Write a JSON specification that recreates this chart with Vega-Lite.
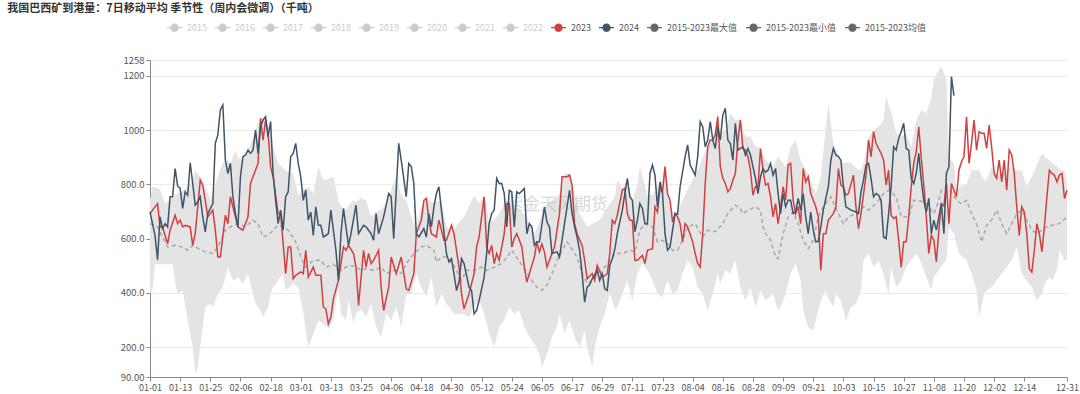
{
"$schema": "https://vega.github.io/schema/vega-lite/v6.json",
"width": 917, "height": 317,
"autosize": "none",
"padding": {"left": 150, "top": 60, "right": 13, "bottom": 17},
"background": "white",
"config": {"view": {"stroke": null}, "font": "Noto Sans CJK SC", "axis": {"labelOverlap": false}, "axisX": {"labelOverlap": false, "labelSeparation": 0}},
"title": {"text": "我国巴西矿到港量：7日移动平均 季节性（周内会微调）（千吨）", "anchor": "start", "dx": -113, "offset": 5, "fontSize": 11, "fontWeight": "bold", "color": "#333"},
"datasets": {
"wm": [{"d": 162, "v": 724, "t": "紫金天风期货"}],
"band": [
{"d":0,"hi":741,"lo":397},{"d":1,"hi":790,"lo":410},{"d":2,"hi":790,"lo":505},{"d":4,"hi":780,"lo":505},{"d":6,"hi":729,"lo":505},{"d":9,"hi":750,"lo":505},{"d":10,"hi":760,"lo":440},{"d":11,"hi":765,"lo":397},{"d":13,"hi":775,"lo":409},{"d":15,"hi":790,"lo":298},{"d":17,"hi":820,"lo":200},{"d":18,"hi":850,"lo":101},{"d":19,"hi":840,"lo":126},{"d":21,"hi":815,"lo":274},{"d":22,"hi":790,"lo":348},{"d":24,"hi":745,"lo":360},{"d":25,"hi":760,"lo":348},{"d":27,"hi":830,"lo":397},{"d":29,"hi":880,"lo":421},{"d":31,"hi":890,"lo":495},{"d":32,"hi":877,"lo":470},{"d":33,"hi":900,"lo":446},{"d":34,"hi":926,"lo":450},{"d":35,"hi":900,"lo":458},{"d":37,"hi":890,"lo":434},{"d":39,"hi":930,"lo":470},{"d":41,"hi":970,"lo":397},{"d":42,"hi":1000,"lo":360},{"d":44,"hi":1045,"lo":335},{"d":45,"hi":1040,"lo":311},{"d":47,"hi":1010,"lo":348},{"d":48,"hi":970,"lo":397},{"d":49,"hi":940,"lo":421},{"d":51,"hi":877,"lo":446},{"d":53,"hi":860,"lo":471},{"d":54,"hi":850,"lo":409},{"d":57,"hi":840,"lo":434},{"d":59,"hi":760,"lo":421},{"d":61,"hi":780,"lo":330},{"d":63,"hi":790,"lo":200},{"d":65,"hi":766,"lo":249},{"d":67,"hi":865,"lo":298},{"d":69,"hi":815,"lo":286},{"d":71,"hi":820,"lo":270},{"d":73,"hi":828,"lo":300},{"d":75,"hi":741,"lo":421},{"d":76,"hi":720,"lo":323},{"d":78,"hi":705,"lo":298},{"d":79,"hi":720,"lo":372},{"d":81,"hi":741,"lo":286},{"d":82,"hi":735,"lo":323},{"d":84,"hi":750,"lo":340},{"d":86,"hi":740,"lo":311},{"d":88,"hi":680,"lo":360},{"d":90,"hi":700,"lo":274},{"d":92,"hi":705,"lo":237},{"d":94,"hi":729,"lo":323},{"d":96,"hi":780,"lo":298},{"d":98,"hi":828,"lo":348},{"d":100,"hi":760,"lo":274},{"d":102,"hi":741,"lo":397},{"d":104,"hi":680,"lo":397},{"d":106,"hi":640,"lo":471},{"d":108,"hi":717,"lo":421},{"d":110,"hi":750,"lo":385},{"d":112,"hi":735,"lo":458},{"d":114,"hi":735,"lo":348},{"d":116,"hi":741,"lo":397},{"d":118,"hi":643,"lo":360},{"d":121,"hi":631,"lo":323},{"d":123,"hi":660,"lo":323},{"d":125,"hi":680,"lo":320},{"d":127,"hi":720,"lo":311},{"d":129,"hi":760,"lo":348},{"d":131,"hi":730,"lo":372},{"d":133,"hi":760,"lo":323},{"d":135,"hi":660,"lo":249},{"d":137,"hi":670,"lo":200},{"d":139,"hi":690,"lo":274},{"d":141,"hi":729,"lo":298},{"d":143,"hi":730,"lo":348},{"d":145,"hi":715,"lo":323},{"d":147,"hi":705,"lo":335},{"d":149,"hi":690,"lo":274},{"d":151,"hi":660,"lo":237},{"d":153,"hi":618,"lo":212},{"d":155,"hi":660,"lo":175},{"d":156,"hi":690,"lo":126},{"d":158,"hi":717,"lo":175},{"d":160,"hi":741,"lo":237},{"d":162,"hi":755,"lo":274},{"d":163,"hi":766,"lo":323},{"d":165,"hi":840,"lo":249},{"d":167,"hi":840,"lo":298},{"d":169,"hi":766,"lo":237},{"d":171,"hi":692,"lo":200},{"d":173,"hi":660,"lo":261},{"d":174,"hi":643,"lo":200},{"d":176,"hi":655,"lo":126},{"d":177,"hi":660,"lo":200},{"d":179,"hi":668,"lo":274},{"d":181,"hi":700,"lo":323},{"d":183,"hi":729,"lo":397},{"d":185,"hi":754,"lo":340},{"d":186,"hi":815,"lo":348},{"d":188,"hi":785,"lo":397},{"d":190,"hi":815,"lo":446},{"d":192,"hi":741,"lo":372},{"d":194,"hi":800,"lo":471},{"d":195,"hi":865,"lo":490},{"d":196,"hi":830,"lo":508},{"d":198,"hi":760,"lo":483},{"d":200,"hi":760,"lo":446},{"d":202,"hi":791,"lo":397},{"d":204,"hi":815,"lo":385},{"d":205,"hi":870,"lo":420},{"d":206,"hi":770,"lo":446},{"d":208,"hi":700,"lo":397},{"d":210,"hi":700,"lo":409},{"d":212,"hi":740,"lo":471},{"d":214,"hi":780,"lo":520},{"d":216,"hi":815,"lo":495},{"d":218,"hi":852,"lo":421},{"d":220,"hi":900,"lo":397},{"d":222,"hi":945,"lo":335},{"d":224,"hi":970,"lo":397},{"d":226,"hi":1060,"lo":471},{"d":227,"hi":990,"lo":434},{"d":229,"hi":1000,"lo":483},{"d":231,"hi":1062,"lo":471},{"d":233,"hi":1037,"lo":520},{"d":235,"hi":1040,"lo":421},{"d":237,"hi":975,"lo":372},{"d":239,"hi":975,"lo":421},{"d":241,"hi":938,"lo":348},{"d":243,"hi":935,"lo":409},{"d":245,"hi":890,"lo":372},{"d":248,"hi":865,"lo":397},{"d":250,"hi":902,"lo":335},{"d":251,"hi":890,"lo":348},{"d":253,"hi":865,"lo":397},{"d":255,"hi":938,"lo":471},{"d":257,"hi":963,"lo":508},{"d":259,"hi":889,"lo":446},{"d":260,"hi":870,"lo":335},{"d":262,"hi":840,"lo":274},{"d":264,"hi":790,"lo":261},{"d":265,"hi":766,"lo":298},{"d":267,"hi":828,"lo":372},{"d":269,"hi":1012,"lo":409},{"d":270,"hi":1098,"lo":380},{"d":272,"hi":950,"lo":348},{"d":273,"hi":926,"lo":397},{"d":275,"hi":877,"lo":372},{"d":277,"hi":880,"lo":298},{"d":279,"hi":880,"lo":348},{"d":281,"hi":860,"lo":360},{"d":283,"hi":850,"lo":409},{"d":284,"hi":877,"lo":520},{"d":286,"hi":975,"lo":545},{"d":288,"hi":1000,"lo":495},{"d":290,"hi":1012,"lo":520},{"d":292,"hi":1037,"lo":471},{"d":293,"hi":1123,"lo":430},{"d":294,"hi":1090,"lo":397},{"d":295,"hi":1070,"lo":495},{"d":297,"hi":988,"lo":421},{"d":299,"hi":975,"lo":446},{"d":301,"hi":988,"lo":495},{"d":303,"hi":938,"lo":520},{"d":305,"hi":1037,"lo":545},{"d":307,"hi":1074,"lo":510},{"d":309,"hi":1062,"lo":458},{"d":311,"hi":1120,"lo":409},{"d":312,"hi":1185,"lo":458},{"d":314,"hi":1222,"lo":483},{"d":315,"hi":1234,"lo":500},{"d":317,"hi":1185,"lo":520},{"d":318,"hi":900,"lo":643},{"d":320,"hi":877,"lo":618},{"d":321,"hi":780,"lo":580},{"d":322,"hi":790,"lo":545},{"d":325,"hi":800,"lo":520},{"d":327,"hi":852,"lo":471},{"d":329,"hi":852,"lo":409},{"d":330,"hi":852,"lo":311},{"d":332,"hi":815,"lo":397},{"d":333,"hi":815,"lo":409},{"d":335,"hi":865,"lo":421},{"d":337,"hi":840,"lo":446},{"d":339,"hi":840,"lo":471},{"d":341,"hi":852,"lo":495},{"d":343,"hi":865,"lo":520},{"d":345,"hi":852,"lo":569},{"d":347,"hi":850,"lo":471},{"d":349,"hi":791,"lo":446},{"d":351,"hi":828,"lo":421},{"d":353,"hi":870,"lo":372},{"d":355,"hi":914,"lo":397},{"d":356,"hi":902,"lo":430},{"d":358,"hi":889,"lo":458},{"d":359,"hi":880,"lo":446},{"d":361,"hi":865,"lo":483},{"d":362,"hi":855,"lo":557},{"d":364,"hi":852,"lo":520},{"d":365,"hi":803,"lo":520}
],
"mean": [
{"d":0,"v":655},{"d":3,"v":643},{"d":7,"v":569},{"d":10,"v":575},{"d":13,"v":569},{"d":15,"v":557},{"d":17,"v":575},{"d":19,"v":565},{"d":22,"v":551},{"d":25,"v":545},{"d":27,"v":569},{"d":30,"v":631},{"d":33,"v":649},{"d":35,"v":655},{"d":38,"v":643},{"d":41,"v":668},{"d":43,"v":655},{"d":45,"v":606},{"d":47,"v":612},{"d":49,"v":631},{"d":51,"v":649},{"d":53,"v":643},{"d":55,"v":631},{"d":58,"v":588},{"d":60,"v":532},{"d":62,"v":495},{"d":65,"v":520},{"d":68,"v":520},{"d":70,"v":495},{"d":73,"v":505},{"d":76,"v":483},{"d":78,"v":495},{"d":81,"v":500},{"d":84,"v":483},{"d":86,"v":490},{"d":89,"v":483},{"d":92,"v":495},{"d":94,"v":471},{"d":97,"v":483},{"d":100,"v":471},{"d":102,"v":508},{"d":105,"v":545},{"d":108,"v":569},{"d":110,"v":575},{"d":113,"v":557},{"d":114,"v":514},{"d":116,"v":532},{"d":118,"v":532},{"d":121,"v":500},{"d":124,"v":446},{"d":126,"v":483},{"d":129,"v":483},{"d":132,"v":495},{"d":134,"v":483},{"d":137,"v":495},{"d":140,"v":508},{"d":142,"v":530},{"d":144,"v":557},{"d":146,"v":530},{"d":149,"v":489},{"d":152,"v":446},{"d":154,"v":421},{"d":156,"v":409},{"d":158,"v":430},{"d":160,"v":471},{"d":162,"v":520},{"d":164,"v":557},{"d":166,"v":588},{"d":168,"v":560},{"d":170,"v":532},{"d":172,"v":471},{"d":174,"v":434},{"d":176,"v":446},{"d":178,"v":471},{"d":181,"v":495},{"d":183,"v":520},{"d":185,"v":545},{"d":188,"v":545},{"d":191,"v":557},{"d":193,"v":550},{"d":195,"v":631},{"d":197,"v":655},{"d":200,"v":643},{"d":202,"v":588},{"d":204,"v":594},{"d":206,"v":582},{"d":208,"v":557},{"d":210,"v":557},{"d":212,"v":594},{"d":214,"v":643},{"d":217,"v":655},{"d":220,"v":606},{"d":222,"v":631},{"d":225,"v":625},{"d":228,"v":655},{"d":230,"v":692},{"d":233,"v":723},{"d":235,"v":711},{"d":236,"v":692},{"d":238,"v":705},{"d":241,"v":717},{"d":243,"v":705},{"d":244,"v":643},{"d":245,"v":618},{"d":247,"v":594},{"d":249,"v":532},{"d":250,"v":526},{"d":252,"v":618},{"d":254,"v":680},{"d":256,"v":698},{"d":258,"v":655},{"d":260,"v":594},{"d":262,"v":563},{"d":264,"v":594},{"d":266,"v":680},{"d":268,"v":717},{"d":271,"v":754},{"d":274,"v":692},{"d":276,"v":655},{"d":278,"v":680},{"d":281,"v":692},{"d":284,"v":717},{"d":286,"v":705},{"d":289,"v":729},{"d":292,"v":766},{"d":294,"v":778},{"d":297,"v":754},{"d":299,"v":680},{"d":302,"v":680},{"d":304,"v":741},{"d":306,"v":741},{"d":309,"v":729},{"d":312,"v":692},{"d":314,"v":741},{"d":315,"v":778},{"d":317,"v":791},{"d":319,"v":772},{"d":321,"v":741},{"d":323,"v":729},{"d":325,"v":741},{"d":327,"v":692},{"d":329,"v":655},{"d":331,"v":588},{"d":333,"v":649},{"d":335,"v":668},{"d":337,"v":705},{"d":339,"v":655},{"d":341,"v":618},{"d":343,"v":655},{"d":345,"v":692},{"d":347,"v":705},{"d":349,"v":668},{"d":351,"v":631},{"d":353,"v":618},{"d":355,"v":631},{"d":357,"v":643},{"d":359,"v":649},{"d":362,"v":655},{"d":365,"v":680}
],
"y2023": [
{"d":0,"v":692},{"d":1,"v":705},{"d":3,"v":729},{"d":4,"v":643},{"d":5,"v":643},{"d":7,"v":581},{"d":8,"v":631},{"d":10,"v":686},{"d":11,"v":655},{"d":12,"v":668},{"d":13,"v":643},{"d":14,"v":649},{"d":16,"v":643},{"d":17,"v":575},{"d":18,"v":618},{"d":20,"v":815},{"d":21,"v":797},{"d":22,"v":741},{"d":23,"v":680},{"d":25,"v":705},{"d":26,"v":631},{"d":27,"v":532},{"d":28,"v":532},{"d":30,"v":686},{"d":31,"v":655},{"d":32,"v":754},{"d":34,"v":680},{"d":35,"v":643},{"d":37,"v":631},{"d":39,"v":680},{"d":40,"v":803},{"d":41,"v":828},{"d":43,"v":877},{"d":44,"v":1043},{"d":45,"v":963},{"d":46,"v":1037},{"d":47,"v":988},{"d":48,"v":865},{"d":49,"v":828},{"d":51,"v":692},{"d":52,"v":692},{"d":53,"v":581},{"d":54,"v":471},{"d":55,"v":569},{"d":56,"v":569},{"d":57,"v":452},{"d":58,"v":465},{"d":59,"v":471},{"d":60,"v":477},{"d":61,"v":471},{"d":62,"v":557},{"d":63,"v":458},{"d":65,"v":495},{"d":66,"v":465},{"d":68,"v":465},{"d":69,"v":348},{"d":70,"v":341},{"d":71,"v":286},{"d":72,"v":311},{"d":73,"v":378},{"d":75,"v":446},{"d":77,"v":569},{"d":78,"v":557},{"d":79,"v":575},{"d":81,"v":545},{"d":82,"v":495},{"d":83,"v":354},{"d":85,"v":557},{"d":86,"v":495},{"d":87,"v":545},{"d":88,"v":508},{"d":89,"v":520},{"d":91,"v":557},{"d":92,"v":421},{"d":93,"v":335},{"d":95,"v":421},{"d":96,"v":532},{"d":98,"v":471},{"d":100,"v":532},{"d":102,"v":415},{"d":103,"v":409},{"d":105,"v":471},{"d":106,"v":618},{"d":108,"v":668},{"d":109,"v":741},{"d":110,"v":748},{"d":111,"v":668},{"d":112,"v":618},{"d":114,"v":606},{"d":115,"v":668},{"d":117,"v":594},{"d":118,"v":594},{"d":120,"v":649},{"d":121,"v":618},{"d":123,"v":495},{"d":124,"v":397},{"d":125,"v":341},{"d":127,"v":397},{"d":129,"v":471},{"d":130,"v":569},{"d":131,"v":606},{"d":133,"v":754},{"d":134,"v":569},{"d":135,"v":545},{"d":136,"v":575},{"d":137,"v":508},{"d":138,"v":545},{"d":139,"v":520},{"d":141,"v":618},{"d":142,"v":729},{"d":143,"v":729},{"d":144,"v":569},{"d":145,"v":600},{"d":146,"v":618},{"d":148,"v":570},{"d":149,"v":495},{"d":150,"v":440},{"d":151,"v":471},{"d":153,"v":532},{"d":154,"v":588},{"d":155,"v":551},{"d":156,"v":580},{"d":157,"v":551},{"d":158,"v":495},{"d":159,"v":520},{"d":161,"v":569},{"d":162,"v":631},{"d":163,"v":692},{"d":164,"v":828},{"d":166,"v":828},{"d":167,"v":834},{"d":168,"v":797},{"d":169,"v":655},{"d":170,"v":618},{"d":172,"v":575},{"d":173,"v":520},{"d":174,"v":452},{"d":176,"v":471},{"d":177,"v":446},{"d":178,"v":501},{"d":179,"v":480},{"d":180,"v":458},{"d":182,"v":470},{"d":183,"v":545},{"d":184,"v":668},{"d":185,"v":655},{"d":186,"v":686},{"d":188,"v":778},{"d":189,"v":785},{"d":190,"v":692},{"d":191,"v":668},{"d":192,"v":668},{"d":193,"v":520},{"d":194,"v":520},{"d":196,"v":538},{"d":197,"v":508},{"d":198,"v":557},{"d":200,"v":563},{"d":201,"v":717},{"d":202,"v":698},{"d":203,"v":785},{"d":204,"v":772},{"d":205,"v":865},{"d":206,"v":766},{"d":207,"v":741},{"d":208,"v":661},{"d":209,"v":692},{"d":210,"v":680},{"d":211,"v":655},{"d":212,"v":588},{"d":213,"v":655},{"d":214,"v":643},{"d":216,"v":588},{"d":217,"v":545},{"d":218,"v":508},{"d":219,"v":495},{"d":220,"v":618},{"d":221,"v":803},{"d":222,"v":938},{"d":223,"v":963},{"d":224,"v":963},{"d":225,"v":982},{"d":226,"v":1049},{"d":227,"v":865},{"d":228,"v":822},{"d":229,"v":803},{"d":230,"v":772},{"d":231,"v":785},{"d":232,"v":815},{"d":233,"v":840},{"d":234,"v":963},{"d":235,"v":1037},{"d":236,"v":932},{"d":237,"v":926},{"d":238,"v":902},{"d":239,"v":852},{"d":240,"v":760},{"d":241,"v":791},{"d":242,"v":791},{"d":243,"v":932},{"d":244,"v":852},{"d":245,"v":797},{"d":246,"v":803},{"d":247,"v":754},{"d":248,"v":680},{"d":249,"v":729},{"d":250,"v":655},{"d":251,"v":717},{"d":252,"v":791},{"d":253,"v":741},{"d":254,"v":871},{"d":255,"v":877},{"d":256,"v":741},{"d":257,"v":692},{"d":258,"v":717},{"d":259,"v":655},{"d":260,"v":858},{"d":261,"v":809},{"d":262,"v":828},{"d":263,"v":766},{"d":264,"v":741},{"d":265,"v":717},{"d":266,"v":680},{"d":267,"v":483},{"d":268,"v":618},{"d":269,"v":618},{"d":270,"v":668},{"d":271,"v":680},{"d":272,"v":692},{"d":273,"v":717},{"d":274,"v":858},{"d":275,"v":797},{"d":276,"v":791},{"d":277,"v":760},{"d":278,"v":766},{"d":280,"v":834},{"d":281,"v":717},{"d":282,"v":637},{"d":283,"v":692},{"d":285,"v":834},{"d":286,"v":963},{"d":287,"v":902},{"d":288,"v":994},{"d":289,"v":951},{"d":290,"v":932},{"d":291,"v":914},{"d":292,"v":889},{"d":293,"v":797},{"d":294,"v":852},{"d":295,"v":686},{"d":296,"v":674},{"d":297,"v":680},{"d":298,"v":594},{"d":299,"v":495},{"d":300,"v":588},{"d":301,"v":588},{"d":302,"v":680},{"d":303,"v":791},{"d":304,"v":877},{"d":305,"v":920},{"d":306,"v":1012},{"d":307,"v":895},{"d":308,"v":797},{"d":309,"v":680},{"d":310,"v":545},{"d":311,"v":612},{"d":312,"v":594},{"d":313,"v":514},{"d":314,"v":631},{"d":315,"v":729},{"d":316,"v":720},{"d":317,"v":803},{"d":318,"v":655},{"d":319,"v":803},{"d":320,"v":778},{"d":321,"v":754},{"d":322,"v":852},{"d":323,"v":883},{"d":324,"v":902},{"d":325,"v":1049},{"d":326,"v":877},{"d":327,"v":951},{"d":328,"v":1037},{"d":329,"v":926},{"d":330,"v":994},{"d":331,"v":988},{"d":332,"v":988},{"d":333,"v":932},{"d":334,"v":1018},{"d":335,"v":938},{"d":336,"v":840},{"d":337,"v":822},{"d":338,"v":889},{"d":339,"v":809},{"d":340,"v":889},{"d":341,"v":778},{"d":342,"v":926},{"d":343,"v":908},{"d":344,"v":840},{"d":345,"v":717},{"d":346,"v":612},{"d":347,"v":717},{"d":348,"v":698},{"d":349,"v":618},{"d":350,"v":489},{"d":351,"v":477},{"d":352,"v":557},{"d":353,"v":655},{"d":354,"v":618},{"d":355,"v":551},{"d":356,"v":643},{"d":357,"v":754},{"d":358,"v":852},{"d":359,"v":840},{"d":360,"v":834},{"d":361,"v":809},{"d":362,"v":834},{"d":363,"v":840},{"d":364,"v":748},{"d":365,"v":778}
],
"y2024": [
{"d":0,"v":698},{"d":1,"v":655},{"d":2,"v":612},{"d":3,"v":522},{"d":4,"v":680},{"d":5,"v":637},{"d":6,"v":655},{"d":7,"v":643},{"d":8,"v":754},{"d":9,"v":754},{"d":10,"v":858},{"d":11,"v":794},{"d":12,"v":785},{"d":13,"v":711},{"d":14,"v":772},{"d":15,"v":760},{"d":16,"v":879},{"d":17,"v":803},{"d":18,"v":723},{"d":19,"v":735},{"d":20,"v":754},{"d":21,"v":680},{"d":22,"v":625},{"d":23,"v":692},{"d":25,"v":729},{"d":26,"v":951},{"d":27,"v":982},{"d":28,"v":1074},{"d":29,"v":1092},{"d":30,"v":889},{"d":31,"v":840},{"d":32,"v":877},{"d":33,"v":754},{"d":34,"v":692},{"d":35,"v":643},{"d":36,"v":828},{"d":37,"v":902},{"d":38,"v":908},{"d":39,"v":926},{"d":40,"v":914},{"d":41,"v":926},{"d":42,"v":1000},{"d":43,"v":914},{"d":44,"v":1012},{"d":45,"v":1037},{"d":46,"v":1049},{"d":47,"v":975},{"d":48,"v":1031},{"d":49,"v":840},{"d":50,"v":741},{"d":51,"v":655},{"d":52,"v":705},{"d":53,"v":631},{"d":54,"v":754},{"d":55,"v":772},{"d":56,"v":902},{"d":57,"v":914},{"d":58,"v":951},{"d":59,"v":877},{"d":60,"v":828},{"d":61,"v":741},{"d":62,"v":779},{"d":63,"v":668},{"d":64,"v":698},{"d":65,"v":612},{"d":66,"v":717},{"d":67,"v":649},{"d":68,"v":649},{"d":69,"v":606},{"d":71,"v":618},{"d":72,"v":705},{"d":74,"v":557},{"d":75,"v":446},{"d":76,"v":618},{"d":77,"v":711},{"d":79,"v":575},{"d":80,"v":618},{"d":82,"v":723},{"d":83,"v":618},{"d":85,"v":649},{"d":86,"v":643},{"d":88,"v":618},{"d":89,"v":594},{"d":90,"v":692},{"d":91,"v":618},{"d":93,"v":680},{"d":95,"v":766},{"d":96,"v":754},{"d":97,"v":600},{"d":99,"v":951},{"d":100,"v":889},{"d":102,"v":754},{"d":103,"v":877},{"d":104,"v":865},{"d":105,"v":803},{"d":106,"v":618},{"d":107,"v":606},{"d":109,"v":637},{"d":110,"v":606},{"d":111,"v":692},{"d":112,"v":643},{"d":113,"v":717},{"d":114,"v":766},{"d":115,"v":791},{"d":116,"v":705},{"d":118,"v":545},{"d":119,"v":514},{"d":120,"v":526},{"d":121,"v":470},{"d":122,"v":409},{"d":123,"v":440},{"d":124,"v":526},{"d":125,"v":508},{"d":127,"v":421},{"d":128,"v":409},{"d":129,"v":323},{"d":130,"v":335},{"d":131,"v":372},{"d":133,"v":458},{"d":134,"v":545},{"d":135,"v":655},{"d":136,"v":692},{"d":137,"v":705},{"d":138,"v":822},{"d":139,"v":803},{"d":140,"v":803},{"d":141,"v":766},{"d":142,"v":643},{"d":143,"v":778},{"d":144,"v":772},{"d":145,"v":643},{"d":146,"v":772},{"d":147,"v":766},{"d":149,"v":785},{"d":150,"v":618},{"d":151,"v":655},{"d":152,"v":643},{"d":153,"v":575},{"d":154,"v":588},{"d":155,"v":588},{"d":157,"v":717},{"d":158,"v":661},{"d":159,"v":643},{"d":160,"v":545},{"d":162,"v":551},{"d":163,"v":532},{"d":164,"v":594},{"d":166,"v":717},{"d":167,"v":778},{"d":168,"v":692},{"d":169,"v":643},{"d":170,"v":606},{"d":171,"v":557},{"d":172,"v":471},{"d":173,"v":366},{"d":174,"v":421},{"d":175,"v":430},{"d":176,"v":452},{"d":178,"v":483},{"d":179,"v":446},{"d":180,"v":471},{"d":181,"v":415},{"d":182,"v":409},{"d":183,"v":501},{"d":184,"v":526},{"d":185,"v":560},{"d":186,"v":618},{"d":188,"v":705},{"d":189,"v":766},{"d":190,"v":822},{"d":191,"v":754},{"d":192,"v":741},{"d":193,"v":625},{"d":194,"v":668},{"d":195,"v":729},{"d":196,"v":711},{"d":197,"v":655},{"d":198,"v":655},{"d":199,"v":840},{"d":200,"v":871},{"d":201,"v":834},{"d":202,"v":717},{"d":203,"v":809},{"d":204,"v":766},{"d":205,"v":618},{"d":206,"v":557},{"d":207,"v":569},{"d":208,"v":631},{"d":209,"v":692},{"d":210,"v":690},{"d":211,"v":791},{"d":213,"v":902},{"d":214,"v":945},{"d":215,"v":871},{"d":216,"v":852},{"d":217,"v":834},{"d":218,"v":902},{"d":219,"v":1031},{"d":220,"v":1012},{"d":221,"v":938},{"d":222,"v":963},{"d":223,"v":1031},{"d":224,"v":963},{"d":225,"v":932},{"d":226,"v":1012},{"d":227,"v":963},{"d":228,"v":1055},{"d":229,"v":1080},{"d":230,"v":963},{"d":231,"v":950},{"d":232,"v":889},{"d":233,"v":1025},{"d":234,"v":926},{"d":235,"v":932},{"d":236,"v":938},{"d":237,"v":908},{"d":238,"v":932},{"d":239,"v":908},{"d":240,"v":865},{"d":241,"v":822},{"d":242,"v":766},{"d":243,"v":828},{"d":244,"v":858},{"d":245,"v":845},{"d":246,"v":852},{"d":247,"v":877},{"d":248,"v":834},{"d":249,"v":858},{"d":250,"v":766},{"d":251,"v":692},{"d":252,"v":766},{"d":253,"v":717},{"d":254,"v":741},{"d":255,"v":741},{"d":256,"v":692},{"d":257,"v":698},{"d":258,"v":748},{"d":259,"v":705},{"d":260,"v":766},{"d":261,"v":680},{"d":262,"v":618},{"d":263,"v":698},{"d":264,"v":631},{"d":265,"v":588},{"d":266,"v":590},{"d":267,"v":643},{"d":268,"v":705},{"d":270,"v":791},{"d":271,"v":889},{"d":272,"v":932},{"d":273,"v":908},{"d":274,"v":902},{"d":275,"v":889},{"d":276,"v":791},{"d":277,"v":717},{"d":278,"v":711},{"d":279,"v":705},{"d":281,"v":698},{"d":282,"v":692},{"d":283,"v":772},{"d":284,"v":815},{"d":285,"v":871},{"d":286,"v":877},{"d":287,"v":822},{"d":288,"v":754},{"d":289,"v":766},{"d":290,"v":760},{"d":291,"v":741},{"d":292,"v":606},{"d":293,"v":600},{"d":294,"v":692},{"d":295,"v":791},{"d":296,"v":938},{"d":297,"v":926},{"d":298,"v":969},{"d":299,"v":994},{"d":300,"v":1025},{"d":301,"v":932},{"d":302,"v":926},{"d":303,"v":822},{"d":304,"v":803},{"d":305,"v":840},{"d":306,"v":914},{"d":307,"v":815},{"d":308,"v":740},{"d":309,"v":698},{"d":310,"v":748},{"d":311,"v":618},{"d":312,"v":668},{"d":313,"v":631},{"d":314,"v":680},{"d":315,"v":729},{"d":316,"v":618},{"d":317,"v":840},{"d":318,"v":865},{"d":319,"v":1197},{"d":320,"v":1127}
]
},
"encoding": {
  "x": {"field": "d", "type": "quantitative", "scale": {"domain": [0, 365], "nice": false, "zero": false},
   "axis": {"title": null, "values": [0,12,24,36,48,60,72,84,96,108,120,132,144,156,168,180,192,204,216,228,240,252,264,276,288,300,312,324,336,348,365],
    "labelExpr": "timeFormat(datetime(2024, 0, 1 + datum.value), '%m-%d')", "labelOverlap": false, "labelSeparation": 0, "labelFontSize": 9, "labelColor": "#555", "labelPadding": 2, "tickSize": 4, "tickColor": "#888", "domainColor": "#888", "grid": false, "labelFlush": false, "labelBound": false}}
},
"layer": [
{"data": {"name": "band"},
 "mark": {"type": "area", "color": "#e4e4e4", "opacity": 1},
 "encoding": {
  "y": {"field": "hi", "type": "quantitative", "scale": {"domain": [90, 1258], "nice": false, "zero": false},
   "axis": {"title": null, "values": [90,200,400,600,800,1000,1200,1258],
    "labelExpr": "datum.value == 90 ? '90.00' : (datum.value >= 1000 ? format(datum.value, 'd') : format(datum.value, '.1f'))",
    "labelFontSize": 9.5, "labelColor": "#555", "labelPadding": 2, "tickSize": 4, "tickColor": "#888", "domainColor": "#888", "gridColor": "#ececec", "labelOverlap": false}},
  "y2": {"field": "lo"}
 }},
{"data": {"name": "wm"},
 "mark": {"type": "text", "fontSize": 17, "color": "#bbbbbb", "opacity": 0.55},
 "encoding": {"y": {"field": "v", "type": "quantitative"}, "text": {"field": "t"}}},
{"data": {"name": "mean"},
 "mark": {"type": "line", "color": "#a8a8a8", "strokeWidth": 1.5, "strokeDash": [4, 3]},
 "encoding": {"y": {"field": "v", "type": "quantitative"}}},
{"data": {"name": "y2023"},
 "mark": {"type": "line", "strokeWidth": 1.5},
 "encoding": {"y": {"field": "v", "type": "quantitative"},
  "color": {"datum": "2023", "type": "nominal",
   "scale": {"domain": ["2015","2016","2017","2018","2019","2020","2021","2022","2023","2024","2015-2023最大值","2015-2023最小值","2015-2023均值"],
             "range": ["#cccccc","#cccccc","#cccccc","#cccccc","#cccccc","#cccccc","#cccccc","#cccccc","#d04040","#3f5568","#666666","#666666","#666666"]},
   "legend": {"title": null, "orient": "none", "legendX": 16, "legendY": -41, "direction": "horizontal", "columns": 13,
    "symbolType": "M-1,0L-0.47,0M0.47,0L1,0M0.47,0A0.47,0.47,0,1,1,-0.47,0A0.47,0.47,0,1,1,0.47,0Z",
    "symbolSize": 225, "symbolStrokeWidth": 1.3, "labelFontSize": 9, "labelOffset": 4, "columnPadding": 5, "padding": 0,
    "encode": {
     "symbols": {"update": {"fill": {"scale": "color", "field": "value"}, "stroke": {"scale": "color", "field": "value"}, "opacity": {"value": 1}}},
     "labels": {"update": {"fill": {"signal": "indexof(['2015','2016','2017','2018','2019','2020','2021','2022'], datum.label) >= 0 ? '#cccccc' : '#555555'"}}}
    }}}}},
{"data": {"name": "y2024"},
 "mark": {"type": "line", "strokeWidth": 1.5},
 "encoding": {"y": {"field": "v", "type": "quantitative"},
  "color": {"datum": "2024", "type": "nominal"}}}
]
}
